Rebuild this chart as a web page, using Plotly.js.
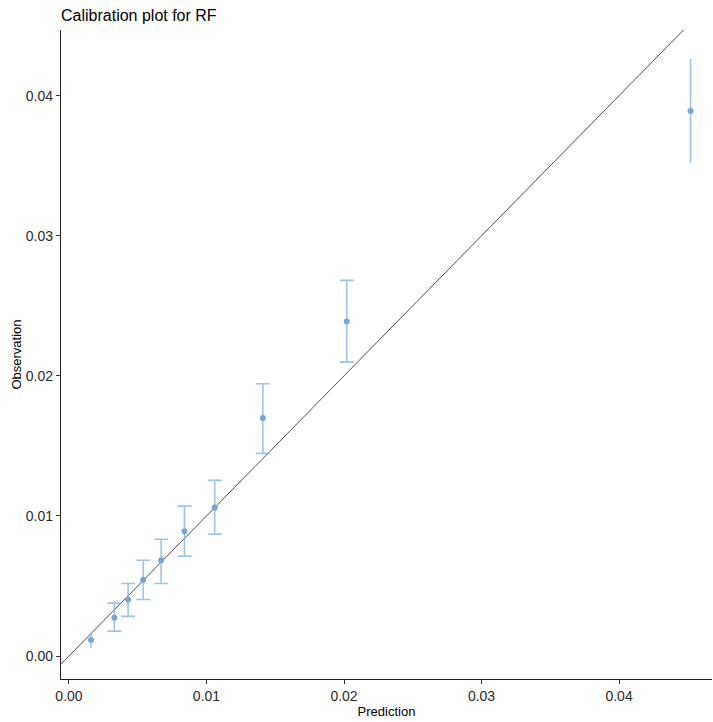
<!DOCTYPE html>
<html>
<head>
<meta charset="utf-8">
<script src="https://cdn.plot.ly/plotly-3.0.1.min.js"></script>
<style>html,body{margin:0;padding:0;background:#fff;}#plot{width:713px;height:722px;}</style>
</head>
<body>
<div id="plot"></div>
<script>
// Calibration data
const prediction  = [0.0016, 0.0033, 0.0043, 0.0054, 0.0067, 0.0084, 0.0106, 0.0141, 0.0202, 0.0452];
const observation = [0.00114, 0.00273, 0.00404, 0.00544, 0.00684, 0.0089, 0.0106, 0.0170, 0.02388, 0.0389];
const ciLower     = [0.00055, 0.00178, 0.00283, 0.00404, 0.00518, 0.00713, 0.0087, 0.01447, 0.02098, 0.03519];
const ciUpper     = [0.0016, 0.00378, 0.00518, 0.00684, 0.00834, 0.0107, 0.01254, 0.01944, 0.02682, 0.04262];
const identityLine = [-0.01, 0.06];
const xTickVals = [0, 0.01, 0.02, 0.03, 0.04];
const yTickVals = [0, 0.01, 0.02, 0.03, 0.04];

const errColor = 'rgba(125,178,224,0.75)';
const ptColor = '#74a8d4';

function pick(arr, idx){ return idx.map(i => arr[i]); }
const capIdx = [], noCapIdx = [];
prediction.forEach((_, i) => { (i === 0 || i === prediction.length - 1 ? noCapIdx : capIdx).push(i); });

function errTrace(idx, w){
  return {
    type: 'scatter', mode: 'markers',
    x: pick(prediction, idx), y: pick(observation, idx),
    marker: {color: ptColor, size: 6},
    error_y: {type: 'data', symmetric: false,
      array: idx.map(i => ciUpper[i] - observation[i]),
      arrayminus: idx.map(i => observation[i] - ciLower[i]),
      color: errColor, thickness: 1.6, width: w},
    hoverinfo: 'x+y', showlegend: false
  };
}

const traces = [
  {type: 'scatter', mode: 'lines', x: identityLine, y: identityLine,
   line: {color: '#3a3a3a', width: 0.9}, hoverinfo: 'skip', showlegend: false},
  errTrace(capIdx, 7),
  errTrace(noCapIdx, 0)
];

const tickFont = {family: 'Liberation Sans, Arial, sans-serif', size: 14, color: '#2b2b2b'};
const layout = {
  width: 713, height: 722,
  paper_bgcolor: '#ffffff', plot_bgcolor: '#ffffff',
  margin: {l: 61, r: 1, t: 30, b: 43},
  title: {text: 'Calibration plot for RF', x: 61/713, xanchor: 'left', xref: 'container',
          y: 1 - 15/722, yanchor: 'middle', yref: 'container',
          font: {family: 'Liberation Sans, Arial, sans-serif', size: 16, color: '#000'}},
  xaxis: {range: [-0.00058, 0.04676], tickvals: xTickVals, tickformat: '.2f',
          showgrid: false, zeroline: false, showline: true, linecolor: '#222', linewidth: 1.2,
          ticks: 'outside', ticklen: 4, tickcolor: '#333', tickwidth: 1, tickfont: tickFont,
          title: {text: 'Prediction', standoff: 1,
                  font: {family: 'Liberation Sans, Arial, sans-serif', size: 13, color: '#000'}}},
  yaxis: {range: [-0.00164, 0.04469], tickvals: yTickVals, tickformat: '.2f',
          showgrid: false, zeroline: false, showline: true, linecolor: '#222', linewidth: 1.2,
          ticks: 'outside', ticklen: 4, tickcolor: '#333', tickwidth: 1, tickfont: tickFont,
          title: {text: 'Observation', standoff: 1,
                  font: {family: 'Liberation Sans, Arial, sans-serif', size: 13, color: '#000'}}},
  showlegend: false
};

Plotly.newPlot('plot', traces, layout, {displayModeBar: false, staticPlot: true});
</script>
</body>
</html>
